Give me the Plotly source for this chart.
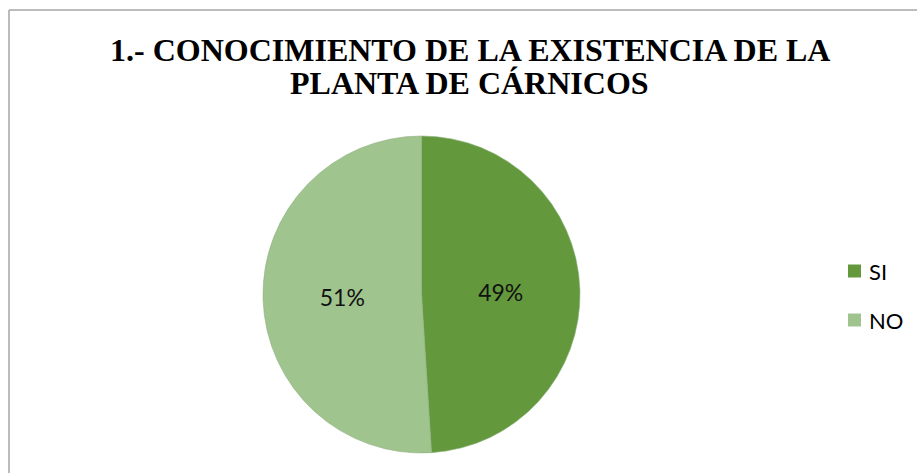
import plotly.graph_objects as go

# Survey answers and their shares
categories = ["SI", "NO"]
shares = [49, 51]
slice_colors = ["#63993c", "#a0c48e"]
title_lines = ["1.- CONOCIMIENTO DE LA EXISTENCIA DE LA", "PLANTA DE CÁRNICOS"]

W, H = 917, 473


def px_x(x):
    return x / W


def px_y(y):
    return 1 - y / H


fig = go.Figure(
    go.Pie(
        labels=categories,
        values=shares,
        sort=False,
        direction="clockwise",
        rotation=0,
        marker=dict(colors=slice_colors, line=dict(color="#8fb07f", width=0.6)),
        texttemplate="%{percent:.0%}",
        textposition="inside",
        insidetextorientation="horizontal",
        textfont=dict(family="Lato, 'Open Sans', sans-serif", size=23, color="#111111"),
        domain=dict(x=[px_x(263), px_x(580)], y=[px_y(453), px_y(136)]),
        hoverinfo="label+percent",
        showlegend=False,
    )
)

annotations = []
# two-line heading
title_font = dict(family="'Liberation Serif', 'Times New Roman', serif", size=32,
                  color="#000000", weight="bold")
for i, line in enumerate(title_lines):
    annotations.append(dict(
        text=line, xref="paper", yref="paper", x=px_x(470), y=px_y(50 + 33 * i),
        xanchor="center", yanchor="middle", showarrow=False, font=title_font,
    ))

# legend: colour swatch + label per category
shapes = []
legend_rows = [271, 320]
for name, color, yc in zip(categories, slice_colors, legend_rows):
    shapes.append(dict(
        type="rect", xref="paper", yref="paper",
        x0=px_x(848), x1=px_x(861), y0=px_y(yc + 6.5), y1=px_y(yc - 6.5),
        fillcolor=color, line=dict(width=0),
    ))
    annotations.append(dict(
        text=name, xref="paper", yref="paper", x=px_x(867), y=px_y(yc),
        xanchor="left", yanchor="middle", showarrow=False,
        font=dict(family="Lato, 'Open Sans', sans-serif", size=22, color="#000000"),
    ))

# chart frame: top and left edges
shapes += [
    dict(type="line", xref="paper", yref="paper", x0=px_x(9), x1=1.01, y0=px_y(10), y1=px_y(10),
         line=dict(color="#a6a6a6", width=1.5)),
    dict(type="line", xref="paper", yref="paper", x0=px_x(9), x1=px_x(9), y0=-0.01, y1=px_y(10),
         line=dict(color="#a6a6a6", width=1.5)),
]

fig.update_layout(
    width=W,
    height=H,
    margin=dict(l=0, r=0, t=0, b=0),
    paper_bgcolor="white",
    plot_bgcolor="white",
    annotations=annotations,
    shapes=shapes,
)

fig.write_html("out.html")
